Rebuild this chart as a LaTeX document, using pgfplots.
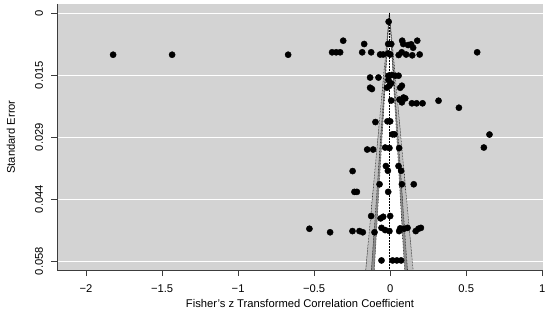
\documentclass[border=0pt]{standalone}
\usepackage{pgfplots}
\pgfplotsset{compat=1.18}
\usepackage{pgfplotstable}
\usepackage{fontspec}
\setmainfont{Liberation Sans}
\definecolor{bgray}{RGB}{211,211,211}
\definecolor{gfiftyfive}{RGB}{140,140,140}
\definecolor{gseventyfive}{RGB}{191,191,191}
\definecolor{axisgray}{RGB}{60,60,60}

\pgfplotstableread{
z se
-0.010 0.00205
-0.309 0.00652
-0.171 0.00730
-0.382 0.00925
-0.355 0.00925
-0.329 0.00925
-0.184 0.00925
-0.125 0.00925
-0.066 0.00977
-0.046 0.00977
-0.013 0.00949
0.000 0.00977
-0.013 0.00730
0.007 0.00730
0.079 0.00652
0.086 0.00730
0.118 0.00754
0.138 0.00737
0.151 0.00817
0.178 0.00652
0.056 0.00989
0.076 0.00925
0.105 0.00977
0.145 0.00996
0.194 0.00977
0.572 0.00925
-1.822 0.00982
-1.434 0.00982
-0.671 0.00982
-0.132 0.01519
-0.077 0.01519
-0.011 0.01476
0.011 0.01460
0.033 0.01476
0.055 0.01476
-0.011 0.01578
-0.132 0.01759
-0.120 0.01790
-0.022 0.01759
-0.005 0.01712
0.005 0.01655
0.066 0.01759
0.077 0.01712
0.007 0.02060
0.061 0.02037
0.077 0.02103
0.088 0.01990
0.099 0.02009
0.143 0.02126
0.174 0.02126
0.213 0.02126
0.318 0.02065
0.452 0.02230
-0.097 0.02567
-0.018 0.02550
0.000 0.02550
0.015 0.02856
0.028 0.02856
0.653 0.02861
0.616 0.03167
-0.151 0.03214
-0.112 0.03214
-0.033 0.03167
-0.005 0.03179
0.059 0.03179
-0.247 0.03721
-0.028 0.03603
-0.015 0.03714
0.055 0.03603
0.072 0.03714
-0.070 0.04032
0.077 0.04032
0.155 0.04032
-0.235 0.04211
-0.219 0.04211
-0.013 0.04211
-0.125 0.04780
-0.063 0.04835
-0.046 0.04797
0.000 0.04780
-0.531 0.05079
-0.395 0.05162
-0.248 0.05134
-0.202 0.05134
-0.180 0.05162
-0.103 0.05162
-0.057 0.05058
-0.033 0.05110
-0.005 0.05134
0.059 0.05134
0.066 0.05070
0.091 0.05079
0.114 0.05058
0.168 0.05134
0.186 0.05079
0.202 0.05058
-0.057 0.05825
0.016 0.05825
0.044 0.05825
0.072 0.05825
}\studies

\begin{document}
\begin{tikzpicture}[font=\fontsize{11.2}{13.4}\selectfont]
\path[use as bounding box] (0pt,0pt) rectangle (550pt,322pt);
\begin{axis}[
  at={(57pt,52pt)}, anchor=south west,
  scale only axis, width=486pt, height=266pt,
  xmin=-2.191, xmax=1.005,
  ymin=-0.0605, ymax=0.00212,
  axis background/.style={fill=bgray},
  axis line style={draw=none},
  xtick={-2,-1.5,-1,-0.5,0,0.5,1},
  xticklabels={−2,−1.5,−1,−0.5,0,0.5,1},
  ytick={-0.0584,-0.0438,-0.0292,-0.0146,0},
  yticklabels={0.058,0.044,0.029,0.015,0},
  scaled y ticks=false, scaled x ticks=false,
  xtick pos=lower, ytick pos=left,
  tick align=outside,
  major tick length=6pt,
  tick style={axisgray, line width=0.6pt},
  ymajorgrids,
  grid style={white, line width=1pt},
  xticklabel style={anchor=base, yshift=-16pt},
  yticklabel style={xshift=-8pt, rotate=90, anchor=base},
  clip=true,
]
\addplot[fill=gseventyfive, draw=none] coordinates {(-0.005,0) (0.15085,-0.0605) (-0.16085,-0.0605)} -- cycle;
\addplot[fill=gfiftyfive, draw=none] coordinates {(-0.005,0) (0.11358,-0.0605) (-0.12358,-0.0605)} -- cycle;
\addplot[fill=white, draw=none] coordinates {(-0.005,0) (0.09452,-0.0605) (-0.10452,-0.0605)} -- cycle;
\addplot[black, line width=0.5pt, dash pattern=on 0.6pt off 0.9pt] coordinates {(-0.16085,-0.0605) (-0.005,0) (0.15085,-0.0605)};
\addplot[black, line width=0.5pt, dash pattern=on 0.6pt off 0.9pt] coordinates {(-0.12358,-0.0605) (-0.005,0) (0.11358,-0.0605)};
\addplot[black, line width=0.5pt, dash pattern=on 0.6pt off 0.9pt] coordinates {(-0.10452,-0.0605) (-0.005,0) (0.09452,-0.0605)};
\addplot[black, line width=0.5pt, dash pattern=on 0.6pt off 0.9pt] coordinates {(-0.005,0) (-0.005,-0.0605)};
\addplot[only marks, mark=*, mark size=3.1pt, black] table[x=z, y expr=-\thisrow{se}] {\studies};
\end{axis}
\draw[axisgray, line width=0.7pt] (57pt,318pt) -- (57pt,52pt) -- (543pt,52pt);
\node[anchor=base] at (300pt,14.5pt) {Fisher's z Transformed Correlation Coefficient};
\node[rotate=90, anchor=base] at (15pt,185pt) {Standard Error};
\end{tikzpicture}
\end{document}
